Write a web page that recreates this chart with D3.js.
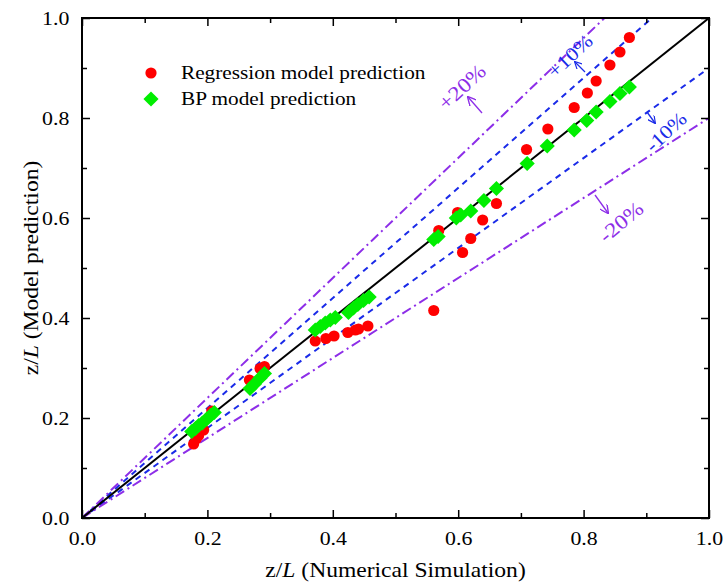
<!DOCTYPE html>
<html><head><meta charset="utf-8">
<script src="https://cdn.jsdelivr.net/npm/d3@7"></script>
<style>body{margin:0;background:#fff}svg{display:block}text{font-family:"Liberation Serif","Times New Roman",serif}</style>
</head><body>
<svg id="c" width="725" height="586"></svg>
<script>
const regX=[0.178,0.182,0.186,0.194,0.207,0.267,0.284,0.291,0.372,0.389,0.402,0.424,0.436,0.441,0.456,0.561,0.569,0.599,0.607,0.620,0.639,0.661,0.709,0.743,0.785,0.806,0.820,0.842,0.858,0.873];
const regY=[0.148,0.158,0.165,0.176,0.214,0.276,0.299,0.303,0.354,0.359,0.364,0.371,0.376,0.378,0.384,0.415,0.575,0.611,0.531,0.559,0.596,0.629,0.737,0.778,0.821,0.850,0.874,0.906,0.932,0.961];
const bpX=[0.175,0.181,0.186,0.192,0.199,0.205,0.211,0.268,0.275,0.284,0.291,0.372,0.380,0.388,0.396,0.404,0.425,0.433,0.440,0.449,0.458,0.561,0.568,0.597,0.604,0.620,0.641,0.661,0.710,0.742,0.785,0.805,0.820,0.842,0.858,0.873];
const bpY=[0.173,0.179,0.185,0.190,0.198,0.205,0.211,0.259,0.268,0.280,0.289,0.376,0.383,0.390,0.396,0.401,0.411,0.420,0.427,0.435,0.442,0.557,0.563,0.600,0.606,0.614,0.635,0.659,0.709,0.744,0.776,0.795,0.812,0.833,0.849,0.862];
const tickVals=[0,0.2,0.4,0.6,0.8,1.0];
const minorVals=[0.1,0.3,0.5,0.7,0.9];
const refFactors=[1.1,0.9,1.2,0.8,1.0];
const legendLabels=["Regression model prediction","BP model prediction"];
const bandLabels=["+20%","+10%","-10%","-20%"];

const SX=1.15; // horizontal text stretch
const svg=d3.select("#c");
const L=82,R=709,T=18,B=518;
const x=d3.scaleLinear().domain([0,1]).range([L,R]);
const y=d3.scaleLinear().domain([0,1]).range([B,T]);
const purple="#8d2ee8", blue="#1a2be8";

svg.append("clipPath").attr("id","clip").append("rect").attr("x",L).attr("y",T).attr("width",R-L).attr("height",B-T);
const lines=svg.append("g").attr("clip-path","url(#clip)");
const styles={1.0:{c:"#000",d:null},1.1:{c:blue,d:"6,5"},0.9:{c:blue,d:"6,5"},1.2:{c:purple,d:"10,4,2,4"},0.8:{c:purple,d:"10,4,2,4"}};
refFactors.forEach(f=>{
  const xe=Math.min(1,1/f);
  lines.append("line").attr("x1",x(0)).attr("y1",y(0)).attr("x2",x(xe)).attr("y2",y(xe*f))
    .attr("stroke",styles[f].c).attr("stroke-width",2).attr("stroke-dasharray",styles[f].d);
});

// points
svg.append("g").selectAll("circle").data(regX.map((v,i)=>[v,regY[i]])).join("circle")
  .attr("cx",d=>x(d[0])).attr("cy",d=>y(d[1])).attr("r",5.6).attr("fill","#ff0000");
const sq=d3.symbol().type(d3.symbolSquare).size(115);
svg.append("g").selectAll("path").data(bpX.map((v,i)=>[v,bpY[i]])).join("path")
  .attr("d",sq).attr("transform",d=>`translate(${x(d[0])},${y(d[1])}) rotate(45)`).attr("fill","#00ee00");

// axes
const ax=svg.append("g");
function mk(g,axis){g.call(axis);g.select(".domain").remove();g.selectAll("line").attr("stroke","#000").attr("stroke-width",1.5);}
ax.append("g").attr("transform",`translate(0,${B})`).call(g=>mk(g,d3.axisBottom(x).tickValues(tickVals).tickSizeInner(-8).tickSizeOuter(0).tickPadding(14).tickFormat(d3.format(".1f"))));
ax.append("g").attr("transform",`translate(0,${B})`).call(g=>mk(g,d3.axisBottom(x).tickValues(minorVals).tickSizeInner(-5).tickSizeOuter(0).tickFormat("")));
ax.append("g").attr("transform",`translate(${L},0)`).call(g=>mk(g,d3.axisLeft(y).tickValues(tickVals).tickSizeInner(-8).tickSizeOuter(0).tickPadding(11).tickFormat(d3.format(".1f"))));
ax.append("g").attr("transform",`translate(${L},0)`).call(g=>mk(g,d3.axisLeft(y).tickValues(minorVals).tickSizeInner(-5).tickSizeOuter(0).tickFormat("")));
ax.append("g").attr("transform",`translate(0,${T})`).call(g=>mk(g,d3.axisTop(x).tickValues(tickVals).tickSizeInner(-8).tickSizeOuter(0).tickFormat("")));
ax.append("g").attr("transform",`translate(0,${T})`).call(g=>mk(g,d3.axisTop(x).tickValues(minorVals).tickSizeInner(-5).tickSizeOuter(0).tickFormat("")));
ax.append("g").attr("transform",`translate(${R},0)`).call(g=>mk(g,d3.axisRight(y).tickValues(tickVals).tickSizeInner(-8).tickSizeOuter(0).tickFormat("")));
ax.append("g").attr("transform",`translate(${R},0)`).call(g=>mk(g,d3.axisRight(y).tickValues(minorVals).tickSizeInner(-5).tickSizeOuter(0).tickFormat("")));
ax.selectAll("text").attr("font-size",19).attr("fill","#000").style("font-family","Liberation Serif").attr("transform",`scale(${SX},1)`);
svg.append("rect").attr("x",L).attr("y",T).attr("width",R-L).attr("height",B-T).attr("fill","none").attr("stroke","#000").attr("stroke-width",2);

// axis titles
const xt=svg.append("text").attr("transform",`translate(${(L+R)/2},577) scale(${SX},1)`).attr("text-anchor","middle").attr("font-size",20.5);
xt.append("tspan").text("z/");xt.append("tspan").attr("font-style","italic").text("L");xt.append("tspan").text(" (Numerical Simulation)");
const yt=svg.append("text").attr("transform",`translate(38,${(T+B)/2}) rotate(-90) scale(${SX},1)`).attr("text-anchor","middle").attr("font-size",20.5);
yt.append("tspan").text("z/");yt.append("tspan").attr("font-style","italic").text("L");yt.append("tspan").text(" (Model prediction)");

// legend
svg.append("circle").attr("cx",151).attr("cy",73).attr("r",5.6).attr("fill","#ff0000");
svg.append("path").attr("d",sq).attr("transform","translate(151,99) rotate(45)").attr("fill","#00ee00");
svg.append("text").attr("transform",`translate(181,79) scale(${SX},1)`).attr("font-size",18.5).text(legendLabels[0]);
svg.append("text").attr("transform",`translate(181,105) scale(${SX},1)`).attr("font-size",18.5).text(legendLabels[1]);

// annotations
svg.append("defs").html(`<marker id="ap" viewBox="0 0 10 10" refX="9" refY="5" markerWidth="7" markerHeight="7" orient="auto-start-reverse"><path d="M0,0 L10,5 L0,10" fill="none" stroke="${purple}" stroke-width="1.5"/></marker>
<marker id="ab" viewBox="0 0 10 10" refX="9" refY="5" markerWidth="6" markerHeight="6" orient="auto-start-reverse"><path d="M0,0 L10,5 L0,10" fill="none" stroke="${blue}" stroke-width="1.5"/></marker>`);
function ann(txt,cx,cy,rot,col,fs,a1,a2,mk){
  svg.append("line").attr("x1",a1[0]).attr("y1",a1[1]).attr("x2",a2[0]).attr("y2",a2[1]).attr("stroke",col).attr("stroke-width",1.3).attr("marker-end",`url(#${mk})`);
  svg.append("text").attr("transform",`translate(${cx},${cy}) rotate(${rot}) scale(${SX},1)`).attr("text-anchor","middle").attr("dominant-baseline","central").attr("font-size",fs).attr("fill",col).text(txt);
}
ann(bandLabels[0],462,87,-43,purple,20.5,[482,113],[468,97],"ap");
ann(bandLabels[1],570,56,-43,blue,19.5,[585,72],[575,62],"ab");
ann(bandLabels[2],666,132,-43,blue,19.5,[647,112],[655,123],"ab");
ann(bandLabels[3],621,222,-40,purple,20.5,[595,195],[608,213],"ap");
</script>
</body></html>
